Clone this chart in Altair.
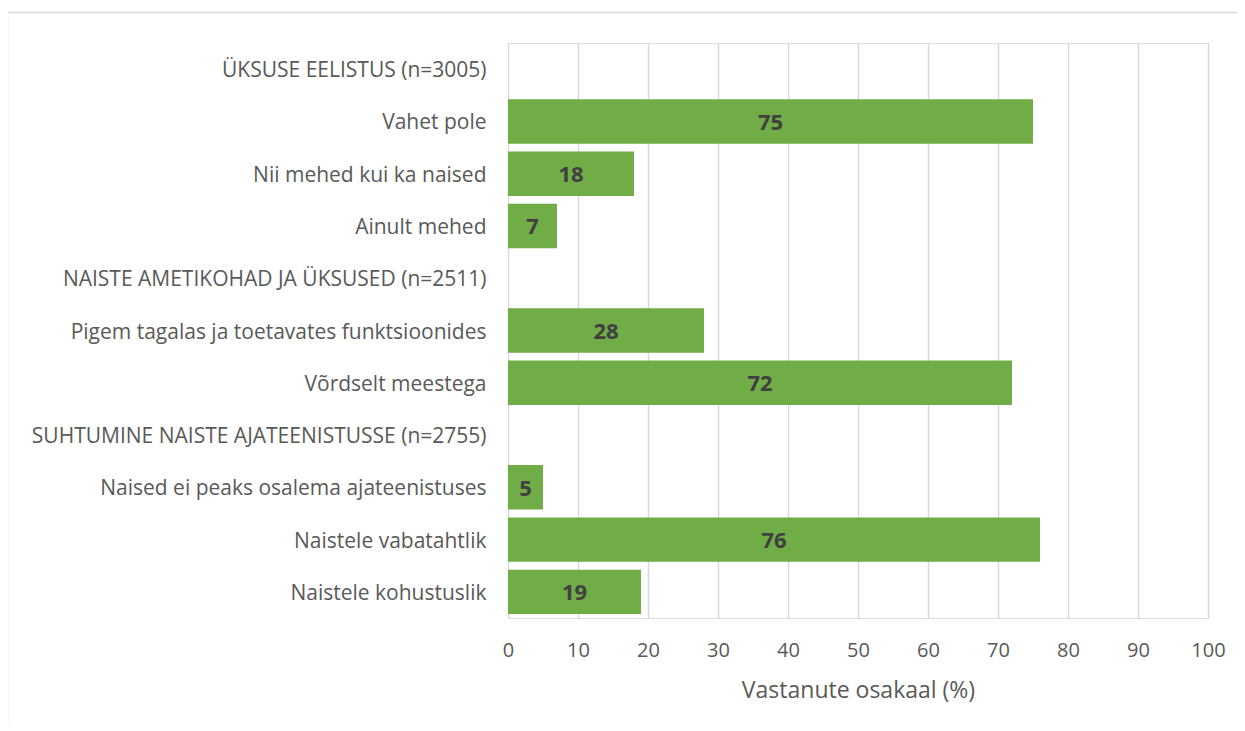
import altair as alt
import pandas as pd

categories = [
    "ÜKSUSE EELISTUS (n=3005)",
    "Vahet pole",
    "Nii mehed kui ka naised",
    "Ainult mehed",
    "NAISTE AMETIKOHAD JA ÜKSUSED (n=2511)",
    "Pigem tagalas ja toetavates funktsioonides",
    "Võrdselt meestega\u00a0",
    "SUHTUMINE NAISTE AJATEENISTUSSE (n=2755)",
    "Naised ei peaks osalema ajateenistuses\u00a0",
    "Naistele vabatahtlik",
    "Naistele kohustuslik",
]
values = [None, 75, 18, 7, None, 28, 72, None, 5, 76, 19]
x_ticks = [0, 10, 20, 30, 40, 50, 60, 70, 80, 90, 100]

df = pd.DataFrame({"cat": categories, "val": values})
df["half"] = df["val"] / 2

FONT = "Open Sans"
LABEL = "#595959"

y_enc = alt.Y(
    "cat:N",
    scale=alt.Scale(domain=categories, paddingInner=0.15, paddingOuter=0.075),
    sort=None,
    axis=alt.Axis(
        title=None, ticks=False, domain=False, labelPadding=22, labelOffset=2,
        labelFontSize=21, labelColor=LABEL, labelFont=FONT, labelLimit=500,
    ),
)
x_enc = alt.X(
    "val:Q",
    scale=alt.Scale(domain=[0, 100], nice=False),
    axis=alt.Axis(
        title="Vastanute osakaal (%)", values=x_ticks, grid=True,
        gridColor="#d9d9d9", gridWidth=1.5, domain=False, ticks=False,
        labelFlush=False, labelPadding=22, labelFontSize=20, labelColor=LABEL,
        labelFont=FONT,
        titleFontSize=23, titleColor=LABEL, titleFont=FONT,
        titleFontWeight="normal", titlePadding=19,
    ),
)

bars = alt.Chart(df).mark_bar(color="#70AD47").encode(x=x_enc, y=y_enc)

text = alt.Chart(df).mark_text(
    font=FONT, fontSize=22, fontWeight="bold", color="#404040",
    align="center", baseline="middle", dy=1.5,
).encode(
    x=alt.X("half:Q"),
    y=alt.Y("cat:N", sort=None),
    text=alt.Text("val:Q", format="d"),
)

border = alt.Chart(alt.Data(values=[{"a": 1}])).mark_rect(
    filled=False, stroke="#d9d9d9", strokeWidth=1.5
).encode(
    x=alt.value(-500.5), x2=alt.value(900),
    y=alt.value(-30.5), y2=alt.value(800),
)

chart = alt.layer(border, bars, text).properties(
    width=700, height=575,
    autosize=alt.AutoSizeParams(type="none"),
    padding={"left": 500, "top": 35, "right": 29, "bottom": 105},
).configure_view(stroke=None).configure(background="white")

chart.save("out.html", embed_options={"renderer": "svg", "actions": False})
